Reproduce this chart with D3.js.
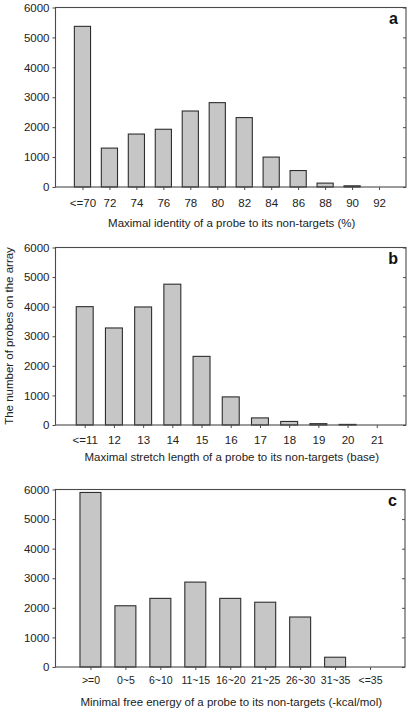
<!DOCTYPE html>
<html><head><meta charset="utf-8">
<script src="https://cdn.jsdelivr.net/npm/d3@7"></script>
<style>
body{margin:0;background:#fff;}
svg{display:block;font-family:"Liberation Sans",Arial,Helvetica,sans-serif;}
</style></head>
<body><svg id="chart" width="407" height="708"></svg>
<script>
// Panel a
const catsA = ["<=70","72","74","76","78","80","82","84","86","88","90","92"];
const valsA = [5370,1300,1770,1930,2540,2820,2320,1000,550,130,40,0];
const titleA = "Maximal identity of a probe to its non-targets (%)";
// Panel b
const catsB = ["<=11","12","13","14","15","16","17","18","19","20","21"];
const valsB = [4000,3280,3990,4760,2320,950,240,120,45,20,0];
const titleB = "Maximal stretch length of a probe to its non-targets (base)";
// Panel c
const catsC = [">=0","0~5","6~10","11~15","16~20","21~25","26~30","31~35","<=35"];
const valsC = [5900,2070,2320,2870,2320,2190,1690,330,0];
const titleC = "Minimal free energy of a probe to its non-targets (-kcal/mol)";
// Axis
const yTicks = [0,1000,2000,3000,4000,5000,6000];
const yTitle = "The number of probes on the array";
const panelLetters = ["a","b","c"];

const svg = d3.select("#chart");
const panels = [
  {cats:catsA, vals:valsA, title:titleA, letter:panelLetters[0], top:7.5, bottom:187, right:406, labY:203, titY:223, labSize:11.5, barFrac:0.6},
  {cats:catsB, vals:valsB, title:titleB, letter:panelLetters[1], top:247.5, bottom:425, right:406, labY:440, titY:457, labSize:11.5, barFrac:0.58},
  {cats:catsC, vals:valsC, title:titleC, letter:panelLetters[2], top:489.5, bottom:667, right:405, labY:680, titY:702, labSize:10.5, barFrac:0.6}
];
const left = 55.5;
const axisCol = "#4a4a4a", textCol = "#222";

panels.forEach(p => {
  const g = svg.append("g");
  const x = d3.scalePoint().domain(p.cats).range([left, p.right]).padding(1);
  const y = d3.scaleLinear().domain([0,6000]).range([p.bottom, p.top]);
  const bw = x.step() * p.barFrac;

  // bars
  g.selectAll("rect.bar").data(p.cats.map((c,i)=>({c, v:p.vals[i]})).filter(d=>d.v>0))
    .enter().append("rect").attr("class","bar")
    .attr("x", d => x(d.c) - bw/2)
    .attr("y", d => y(d.v))
    .attr("width", bw)
    .attr("height", d => y(0) - y(d.v))
    .attr("fill", "#c6c6c6")
    .attr("stroke", "#2e2e2e")
    .attr("stroke-width", 1.1);

  // frame
  g.append("rect").attr("x", left).attr("y", p.top)
    .attr("width", p.right - left).attr("height", p.bottom - p.top)
    .attr("fill","none").attr("stroke",axisCol).attr("stroke-width",1.1);

  // left axis
  const ya = d3.axisLeft(y).tickValues(yTicks).tickSize(3).tickPadding(3).tickFormat(d3.format("d"));
  const gy = g.append("g").attr("transform",`translate(${left},0)`).call(ya);
  gy.select(".domain").remove();
  gy.selectAll("line").attr("stroke",axisCol);
  gy.selectAll("text").attr("font-size",11.5).attr("fill",textCol);

  // right axis ticks
  const yr = d3.axisLeft(y).tickValues(yTicks).tickSize(3).tickFormat("");
  const gr = g.append("g").attr("transform",`translate(${p.right},0)`).call(yr);
  gr.select(".domain").remove();
  gr.selectAll("line").attr("stroke",axisCol);

  // bottom axis
  const xa = d3.axisBottom(x).tickSize(3).tickPadding(0);
  const gx = g.append("g").attr("transform",`translate(0,${p.bottom})`).call(xa);
  gx.select(".domain").remove();
  gx.selectAll("line").attr("stroke",axisCol);
  gx.selectAll("text").attr("font-size",p.labSize).attr("fill",textCol)
    .attr("y", p.labY - p.bottom).attr("dy","0.35em");

  // x title
  g.append("text").attr("x",(left+p.right)/2 + 1).attr("y",p.titY).attr("dy","0.35em")
    .attr("text-anchor","middle").attr("font-size",11.5).attr("fill",textCol).text(p.title);

  // panel letter
  g.append("text").attr("x",p.right-8).attr("y",p.top+11).attr("dy","0.35em")
    .attr("text-anchor","end").attr("font-size",16).attr("font-weight","bold").attr("fill","#111").text(p.letter);
});

// y title
svg.append("text").attr("transform","translate(9,336) rotate(-90)").attr("dy","0.35em")
  .attr("text-anchor","middle").attr("font-size",11.5).attr("fill",textCol).text(yTitle);
</script>
</body></html>
